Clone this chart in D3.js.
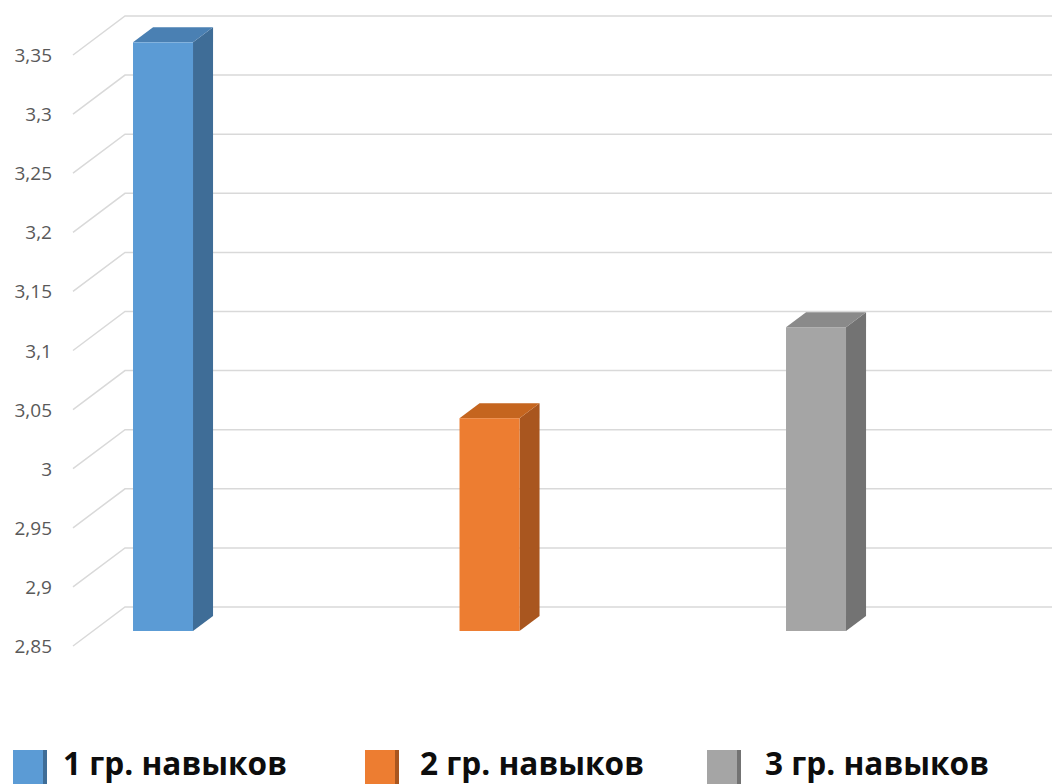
<!DOCTYPE html>
<html>
<head>
<meta charset="utf-8">
<script src="https://cdnjs.cloudflare.com/ajax/libs/d3/7.8.5/d3.min.js"></script>
<style>
  html, body { margin: 0; padding: 0; background: #ffffff; }
  svg { display: block; }
</style>
</head>
<body>
<svg id="chart" width="1052" height="784"></svg>
<script>
// ---- data ----
const categories = ["1 гр. навыков", "2 гр. навыков", "3 гр. навыков"];
const values = [3.348, 3.03, 3.107];
const tickValues = [2.85, 2.9, 2.95, 3.0, 3.05, 3.1, 3.15, 3.2, 3.25, 3.3, 3.35];
const tickLabels = ["2,85", "2,9", "2,95", "3", "3,05", "3,1", "3,15", "3,2", "3,25", "3,3", "3,35"];
const frontColors = ["#5b9bd5", "#ed7d31", "#a5a5a5"];
const sideColors = ["#3f6d97", "#a9561f", "#737373"];
const topColors = ["#4a80b3", "#c5651f", "#8a8a8a"];

// ---- layout ----
const W = 1052, H = 784;
const svg = d3.select("#chart");
const depthX = 52, depthY = 39;          // full depth of the 3D floor
const d0 = 0.385, d1 = 0.77;             // bar depth slot (fraction of full depth)
const barW = 60;

const y = d3.scaleLinear().domain([2.85, 3.35]).range([646, 55]);
const x = d3.scalePoint().domain(categories).range([143, 796]);
const proj = (px, v, d) => [px + depthX * d, y(v) - depthY * d];

// ---- gridlines ----
const grid = svg.append("g");
tickValues.forEach(t => {
  const [fx, fy] = proj(73, t, 0);
  const [bx, by] = proj(73, t, 1);
  grid.append("path")
    .attr("d", `M${fx},${fy}L${bx},${by}L${W},${by}`)
    .attr("fill", "none")
    .attr("stroke", "#d9d9d9")
    .attr("stroke-width", 1.5);
});

// ---- tick labels ----
svg.append("g").selectAll("text")
  .data(tickValues)
  .join("text")
  .attr("x", 52)
  .attr("y", d => y(d) + 7)
  .attr("text-anchor", "end")
  .attr("font-family", "'Open Sans', 'Liberation Sans', sans-serif")
  .attr("font-size", 19)
  .attr("fill", "#595959")
  .text((d, i) => tickLabels[i]);

// ---- bars ----
const base = 2.85;
const bars = svg.append("g");
categories.forEach((c, i) => {
  const v = values[i];
  const cx = x(c);
  const [xl, yTop] = proj(cx - barW / 2, v, d0);
  const [, yBot] = proj(cx - barW / 2, base, d0);
  const xr = xl + barW;
  const ddx = depthX * (d1 - d0), ddy = depthY * (d1 - d0);
  // side
  bars.append("path")
    .attr("d", `M${xr},${yTop}L${xr + ddx},${yTop - ddy}L${xr + ddx},${yBot - ddy}L${xr},${yBot}Z`)
    .attr("fill", sideColors[i]);
  // top
  bars.append("path")
    .attr("d", `M${xl},${yTop}L${xl + ddx},${yTop - ddy}L${xr + ddx},${yTop - ddy}L${xr},${yTop}Z`)
    .attr("fill", topColors[i]);
  // front
  bars.append("rect")
    .attr("x", xl).attr("y", yTop)
    .attr("width", barW).attr("height", yBot - yTop)
    .attr("fill", frontColors[i]);
});

// ---- legend ----
const legendX = [13, 365, 707];
const legendTextX = [63, 420, 765];
const lg = svg.append("g");
categories.forEach((c, i) => {
  lg.append("rect")
    .attr("x", legendX[i]).attr("y", 750)
    .attr("width", 30).attr("height", 40)
    .attr("fill", frontColors[i]);
  lg.append("rect")
    .attr("x", legendX[i] + 30).attr("y", 750)
    .attr("width", 4).attr("height", 40)
    .attr("fill", sideColors[i]);
  lg.append("text")
    .attr("x", legendTextX[i])
    .attr("y", 775)
    .attr("font-family", "'Open Sans', 'Liberation Sans', sans-serif")
    .attr("font-weight", "bold")
    .attr("font-size", 33)
    .attr("fill", "#0d0d0d")
    .attr("textLength", 224)
    .attr("lengthAdjust", "spacingAndGlyphs")
    .text(c);
});
</script>
</body>
</html>
